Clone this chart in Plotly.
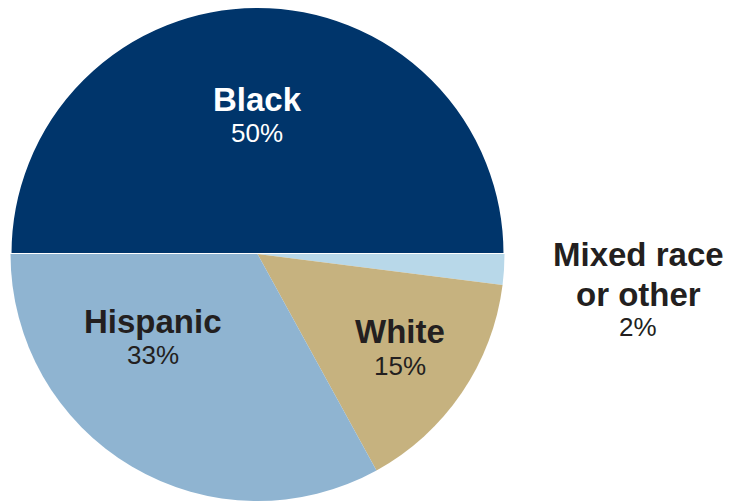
import plotly.graph_objects as go

categories = ["Black", "Mixed race or other", "White", "Hispanic"]
values = [50, 2, 15, 33]
colors = ["#00356b", "#b8d8e9", "#c6b27f", "#8fb4d1"]
line_widths = [2, 0, 0, 0]

W, H = 729, 502

fig = go.Figure(go.Pie(
    labels=categories,
    values=values,
    sort=False,
    direction="clockwise",
    rotation=270,
    marker=dict(colors=colors, line=dict(color="white", width=line_widths)),
    textinfo="none",
    hoverinfo="label+percent",
    showlegend=False,
    domain=dict(x=[10 / W, 505 / W], y=[1 - 501 / H, 1 - 7 / H]),
))

# label positions in pixels (centre x, centre y), title lines then percentage
labels = [
    ("Black", "white", [("Black", 99)], 257, 133),
    ("Hispanic", "#231f20", [("Hispanic", 321)], 153, 355),
    ("White", "#231f20", [("White", 331)], 400, 366),
    ("Mixed", "#231f20", [("Mixed race", 254), ("or other", 294)], 638, 327),
]
pct = {"Black": "50%", "Hispanic": "33%", "White": "15%", "Mixed": "2%"}

annotations = []
for key, col, lines, cx, py in labels:
    for txt, ty in lines:
        annotations.append(dict(
            x=cx / W, y=1 - ty / H, xref="paper", yref="paper",
            text=f"<b>{txt}</b>", showarrow=False, xanchor="center", yanchor="middle",
            font=dict(family="Liberation Sans, Arial, sans-serif", size=33, color=col),
        ))
    annotations.append(dict(
        x=cx / W, y=1 - py / H, xref="paper", yref="paper",
        text=pct[key], showarrow=False, xanchor="center", yanchor="middle",
        font=dict(family="Liberation Sans, Arial, sans-serif", size=26, color=col),
    ))

fig.update_layout(
    width=W, height=H,
    margin=dict(l=0, r=0, t=0, b=0),
    paper_bgcolor="white",
    plot_bgcolor="white",
    annotations=annotations,
)

fig.write_html(
    "out.html",
    config={"displayModeBar": False},
    post_script="document.body.style.margin='0';document.body.style.padding='0';",
)
